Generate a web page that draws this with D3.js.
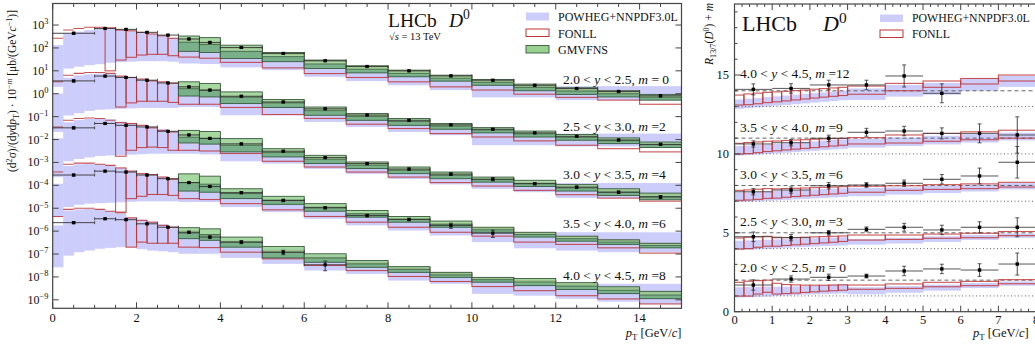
<!DOCTYPE html>
<html><head><meta charset="utf-8">
<script src="https://cdn.jsdelivr.net/npm/d3@7"></script>
<style>
body{margin:0;background:#fff;}
svg{display:block;font-family:"Liberation Serif","DejaVu Serif",serif;}
</style></head><body>
<svg id="c" width="1035" height="350"></svg>
<script>
// ================= DATA (left panel: values given as log10 exponents) =================
const rapRanges = [["2.0","2.5"],["2.5","3.0"],["3.0","3.5"],["3.5","4.0"],["4.0","4.5"]];
const mLeft  = ["= 0","=2","=4","=6","=8"];
const mRight = ["= 0","=3","=6","=9","=12"];
const mRightVal = [0,3,6,9,12];
const xTicksL = [0,2,4,6,8,10,12,14];
const yTicksL = [3,2,1,0,-1,-2,-3,-4,-5,-6,-7,-8,-9];
const xTicksR = [0,1,2,3,4,5,6,7,8];
const yTicksR = [0,5,10,15];

const dataEdges = [0,1,1.5,2,2.5,3,3.5,4,5,6,7,8,9,10,11,12,13,14,15];
const dataExp = [
 [2.64,2.85,2.81,2.68,2.56,2.39,2.24,2.02,1.76,1.44,1.19,1.00,0.78,0.59,0.37,0.23,0.10,-0.09],
 [0.56,0.77,0.71,0.59,0.47,0.30,0.16,-0.11,-0.36,-0.66,-0.93,-1.16,-1.36,-1.55,-1.71,-1.86,-2.02,-2.21],
 [-1.49,-1.30,-1.38,-1.45,-1.64,-1.80,-1.95,-2.19,-2.51,-2.79,-3.05,-3.29,-3.51,-3.73,-3.93,-4.08,-4.30,-4.51],
 [-3.55,-3.38,-3.42,-3.55,-3.71,-3.88,-4.05,-4.32,-4.66,-4.98,-5.32,-5.49,-5.75,-6.09,null,null,null,null],
 [-5.63,-5.46,-5.50,-5.68,-5.83,-6.05,-6.26,-6.48,-6.92,-7.47,null,null,null,null,null,null,null,null]
];
const dataErr = [
 [0.10,0.08,0.08,0.08,0.08,0.08,0.08,0.08,0.08,0.08,0.08,0.08,0.08,0.08,0.08,0.08,0.08,0.10],
 [0.10,0.08,0.08,0.08,0.08,0.08,0.08,0.08,0.08,0.08,0.08,0.08,0.08,0.08,0.08,0.08,0.08,0.10],
 [0.10,0.08,0.08,0.08,0.08,0.08,0.08,0.08,0.08,0.08,0.10,0.10,0.12,0.15,0.10,0.10,0.12,0.15],
 [0.10,0.08,0.08,0.08,0.08,0.08,0.08,0.10,0.12,0.10,0.12,0.12,0.25,0.35,null,null,null,null],
 [0.10,0.08,0.08,0.08,0.08,0.10,0.10,0.15,0.22,0.45,null,null,null,null,null,null,null,null]
];

const thEdges = [0,0.25,0.5,0.75,1,1.25,1.5,1.75,2,2.25,2.5,2.75,3,3.5,4,5,6,7,8,9,10,11,12,13,14,15];
const powhegHiExp = [
 [2.12,2.64,2.71,2.78,2.85,2.85,2.78,2.75,2.68,2.61,2.53,2.44,2.35,2.20,1.95,1.61,1.25,1.00,0.81,0.62,0.45,0.33,0.33,0.33,0.33],
 [0.01,0.70,0.80,0.85,0.88,0.88,0.78,0.72,0.65,0.58,0.50,0.42,0.30,0.15,-0.14,-0.50,-0.79,-1.01,-1.23,-1.42,-1.60,-1.74,-1.74,-1.74,-1.74],
 [-1.95,-1.25,-1.15,-1.10,-1.08,-1.12,-1.22,-1.28,-1.36,-1.45,-1.55,-1.65,-1.78,-1.93,-2.18,-2.55,-2.85,-3.10,-3.32,-3.53,-3.73,-3.85,-3.90,-3.90,-3.90],
 [-3.93,-3.15,-3.08,-3.06,-3.08,-3.13,-3.24,-3.36,-3.47,-3.53,-3.62,-3.72,-3.85,-4.00,-4.25,-4.62,-4.95,-5.25,-5.50,-5.72,-5.95,-6.05,-6.05,-6.05,-6.05],
 [-5.75,-5.10,-5.05,-5.03,-5.05,-5.12,-5.22,-5.40,-5.50,-5.58,-5.70,-5.80,-5.95,-6.15,-6.40,-6.75,-7.05,-7.30,-7.55,-7.78,-8.00,-8.30,-8.30,-8.30,-8.30]
];
const powhegLoExp = [
 [0.30,1.10,1.18,1.25,1.29,1.35,1.38,1.40,1.42,1.42,1.42,1.40,1.32,1.30,1.15,1.03,0.74,0.55,0.37,0.16,-0.16,-0.16,-0.28,-0.28,-0.28],
 [-1.67,-0.95,-0.85,-0.75,-0.70,-0.68,-0.66,-0.64,-0.62,-0.62,-0.62,-0.62,-0.58,-0.58,-0.94,-0.94,-1.23,-1.45,-1.67,-1.81,-2.25,-2.25,-2.30,-2.30,-2.30],
 [-3.64,-2.95,-2.85,-2.78,-2.72,-2.70,-2.68,-2.66,-2.64,-2.62,-2.62,-2.62,-2.62,-2.65,-2.95,-3.05,-3.28,-3.50,-3.72,-3.96,-4.15,-4.30,-4.55,-4.55,-4.55],
 [-5.39,-4.95,-4.85,-4.80,-4.78,-4.76,-4.74,-4.72,-4.70,-4.70,-4.70,-4.70,-4.73,-4.73,-4.95,-5.17,-5.46,-5.75,-5.97,-6.19,-6.48,-6.75,-6.85,-6.92,-6.92],
 [-7.58,-7.07,-6.92,-6.85,-6.77,-6.73,-6.70,-6.70,-6.79,-6.85,-6.88,-6.92,-6.99,-6.99,-7.17,-7.43,-7.72,-7.87,-8.16,-8.30,-8.74,-8.82,-8.96,-9.08,-9.18]
];
const fonllHiExp = [
 [2.42,2.78,2.85,2.90,2.90,2.88,2.78,2.75,2.68,2.61,2.53,2.42,2.35,2.20,1.98,1.72,1.42,1.17,0.97,0.75,0.55,0.33,0.18,0.05,-0.12],
 [0.52,0.81,0.89,0.93,0.93,0.89,0.77,0.71,0.64,0.56,0.52,0.45,0.30,0.15,-0.12,-0.38,-0.68,-0.95,-1.18,-1.38,-1.57,-1.73,-1.88,-2.04,-2.23],
 [-1.45,-1.16,-1.08,-1.06,-1.08,-1.16,-1.26,-1.30,-1.38,-1.49,-1.60,-1.67,-1.80,-1.95,-2.20,-2.52,-2.80,-3.07,-3.30,-3.52,-3.74,-3.90,-4.06,-4.24,-4.42],
 [-3.42,-3.08,-3.03,-3.03,-3.08,-3.13,-3.24,-3.38,-3.49,-3.53,-3.64,-3.74,-3.88,-4.05,-4.33,-4.67,-4.98,-5.25,-5.48,-5.68,-5.88,-6.08,-6.25,-6.40,-6.55],
 [-5.36,-5.05,-5.00,-5.00,-5.05,-5.13,-5.20,-5.42,-5.53,-5.61,-5.75,-5.83,-6.00,-6.20,-6.45,-6.85,-7.15,-7.38,-7.62,-7.85,-8.05,-8.15,-8.32,-8.50,-8.70]
];
const fonllLoExp = [
 [null,null,null,null,null,1.00,1.47,1.59,1.69,1.72,1.72,1.66,1.60,1.55,1.37,1.13,0.88,0.71,0.52,0.30,0.16,-0.02,-0.16,-0.28,-0.46],
 [null,null,null,null,null,null,-0.58,-0.40,-0.33,-0.33,-0.33,-0.38,-0.46,-0.46,-0.60,-0.91,-1.08,-1.33,-1.52,-1.74,-1.89,-2.06,-2.25,-2.40,-2.54],
 [null,null,null,null,null,null,-2.73,-2.47,-2.35,-2.33,-2.35,-2.47,-2.47,-2.50,-2.61,-2.95,-3.20,-3.42,-3.64,-3.88,-4.03,-4.22,-4.41,-4.56,-4.69],
 [null,null,null,null,null,null,-5.17,-4.58,-4.48,-4.40,-4.40,-4.44,-4.58,-4.62,-4.80,-5.07,-5.36,-5.61,-5.83,-6.05,-6.22,-6.48,-6.58,-6.73,-6.96],
 [null,null,null,null,null,null,null,-6.70,-6.48,-6.53,-6.53,-6.53,-6.70,-6.72,-6.92,-7.21,-7.50,-7.72,-7.98,-8.20,-8.42,-8.60,-8.82,-8.96,-9.18]
];
const gmEdges = [3,3.5,4,5,6,7,8,9,10,11,12,13,14,15];
const gmHiExp = [
 [2.52,2.45,2.12,1.80,1.47,1.22,1.03,0.81,0.62,0.42,0.26,0.13,-0.03],
 [0.52,0.45,0.08,-0.25,-0.58,-0.86,-1.08,-1.30,-1.48,-1.63,-1.78,-1.93,-2.11],
 [-1.60,-1.65,-1.96,-2.40,-2.69,-2.98,-3.20,-3.42,-3.64,-3.78,-3.97,-4.15,-4.34],
 [-3.50,-3.60,-4.15,-4.48,-4.80,-5.10,-5.36,-5.56,-5.83,-6.05,-6.22,-6.38,-6.53],
 [-5.85,-5.90,-6.26,-6.67,-6.99,-7.28,-7.55,-7.80,-8.02,-8.07,-8.25,-8.43,-8.63]
];
const gmMidExp = [
 [2.25,2.15,1.85,1.62,1.30,1.07,0.89,0.68,0.50,0.28,0.12,0.00,-0.15],
 [0.22,0.15,-0.15,-0.40,-0.74,-0.99,-1.21,-1.41,-1.58,-1.75,-1.90,-2.05,-2.22],
 [-1.90,-1.95,-2.25,-2.57,-2.86,-3.12,-3.34,-3.56,-3.75,-3.92,-4.11,-4.30,-4.49],
 [-3.88,-3.95,-4.36,-4.65,-4.96,-5.24,-5.48,-5.70,-5.94,-6.15,-6.33,-6.48,-6.63],
 [-6.08,-6.15,-6.48,-6.92,-7.17,-7.43,-7.67,-7.91,-8.12,-8.22,-8.40,-8.58,-8.79]
];
const gmLoExp = [
 [1.85,1.80,1.54,1.40,1.10,0.91,0.74,0.55,0.37,0.13,-0.03,-0.14,-0.28],
 [-0.10,-0.14,-0.43,-0.60,-0.94,-1.16,-1.38,-1.55,-1.71,-1.89,-2.03,-2.18,-2.35],
 [-2.15,-2.20,-2.54,-2.76,-3.05,-3.27,-3.49,-3.71,-3.86,-4.05,-4.25,-4.44,-4.63],
 [-4.25,-4.30,-4.58,-4.83,-5.13,-5.39,-5.61,-5.83,-6.05,-6.26,-6.44,-6.58,-6.73],
 [-6.33,-6.40,-6.70,-7.17,-7.36,-7.58,-7.80,-8.02,-8.23,-8.38,-8.55,-8.73,-8.95]
];

// ================= DATA (right panel: R_13/7, without the offset m) =================
const dataEdgesR = [0,1,2,3,4,5,6,7,8];
const ratioData = [
 [1.69,2.07,2.18,2.26,2.58,2.71,2.64,3.02],
 [1.75,1.69,2.00,2.22,2.35,2.18,2.35,2.35],
 [1.60,1.71,1.98,2.03,2.14,2.39,2.60,3.47],
 [1.63,1.71,1.99,2.37,2.45,2.30,2.30,2.20],
 [2.09,2.15,2.37,2.37,2.94,1.84,null,null]
];
const ratioErr = [
 [0.33,0.20,0.20,0.12,0.30,0.30,0.40,0.70],
 [0.30,0.20,0.15,0.15,0.25,0.30,0.35,0.60],
 [0.20,0.20,0.20,0.15,0.20,0.30,0.50,1.00],
 [0.20,0.20,0.20,0.25,0.30,0.35,0.60,1.15],
 [0.35,0.30,0.30,0.30,0.70,0.60,null,null]
];
const thEdgesR = [0,0.25,0.5,0.75,1,1.25,1.5,1.75,2,2.25,2.5,2.75,3,4,5,6,7,8];
const powhegRLo = [
 [0.90,0.92,0.94,0.96,1.00,1.02,1.05,1.08,1.10,1.12,1.14,1.16,1.10,1.20,1.33,1.50,1.65],
 [0.90,0.92,0.95,0.98,1.02,1.05,1.08,1.10,1.13,1.16,1.18,1.20,1.25,1.32,1.42,1.55,1.68],
 [0.95,0.97,1.00,1.03,1.06,1.09,1.12,1.15,1.18,1.21,1.24,1.27,1.32,1.42,1.52,1.62,1.75],
 [0.90,0.93,0.96,1.00,1.04,1.08,1.12,1.16,1.20,1.24,1.28,1.32,1.40,1.50,1.60,1.72,1.85],
 [0.85,0.90,0.95,1.00,1.05,1.10,1.15,1.20,1.25,1.30,1.35,1.40,1.42,1.63,1.75,2.00,2.25]
];
const powhegRHi = [
 [1.55,1.56,1.57,1.58,1.58,1.58,1.60,1.62,1.64,1.68,1.72,1.76,1.55,1.62,1.72,1.82,1.92],
 [1.50,1.52,1.54,1.56,1.58,1.60,1.62,1.64,1.66,1.68,1.70,1.72,1.60,1.68,1.78,1.86,1.95],
 [1.55,1.57,1.59,1.62,1.65,1.68,1.71,1.74,1.76,1.78,1.80,1.82,1.85,1.88,1.98,2.05,2.15],
 [1.50,1.53,1.56,1.60,1.64,1.68,1.72,1.76,1.80,1.84,1.88,1.92,1.95,2.05,2.15,2.25,2.35],
 [1.45,1.50,1.55,1.60,1.65,1.70,1.75,1.80,1.85,1.90,1.95,2.00,2.15,2.37,2.50,2.75,2.95]
];
const fonllRHi = [
 [1.86,1.93,1.97,2.00,1.80,1.72,1.70,1.68,1.68,1.68,1.69,1.70,1.69,1.76,1.86,1.92,2.03],
 [1.67,1.72,1.75,1.78,1.72,1.70,1.70,1.72,1.74,1.76,1.78,1.80,1.86,1.86,1.92,1.97,2.08],
 [1.69,1.72,1.76,1.80,1.78,1.80,1.82,1.84,1.86,1.88,1.90,1.92,1.95,1.98,2.05,2.10,2.20],
 [1.67,1.72,1.76,1.80,1.82,1.85,1.88,1.90,1.93,1.95,1.97,1.99,2.03,2.20,2.30,2.40,2.50],
 [1.73,1.80,1.85,1.90,1.93,1.97,2.01,2.05,2.10,2.14,2.18,2.22,2.30,2.47,2.62,2.78,3.00]
];
const fonllRLo = [
 [0.99,0.99,1.12,1.23,1.12,1.15,1.18,1.22,1.26,1.30,1.33,1.36,1.42,1.48,1.58,1.65,1.77],
 [0.97,1.00,1.08,1.15,1.15,1.20,1.24,1.28,1.32,1.36,1.40,1.45,1.54,1.58,1.65,1.69,1.82],
 [1.06,1.08,1.12,1.18,1.20,1.25,1.30,1.34,1.38,1.42,1.46,1.50,1.57,1.69,1.75,1.80,1.90],
 [0.99,1.02,1.08,1.15,1.20,1.25,1.30,1.35,1.40,1.45,1.50,1.55,1.63,1.69,1.80,1.90,2.00],
 [1.10,1.12,1.18,1.25,1.30,1.36,1.42,1.48,1.54,1.60,1.65,1.70,1.78,2.00,2.22,2.43,2.62]
];

// ================= DRAWING =================
const svg = d3.select("#c");
const E = v => Math.pow(10, v);
const COL_PW = "#cdcdfb", COL_FO = "#c03535", COL_GM = "#98d192", COL_GMD = "rgba(40,105,85,0.32)", COL_GMS = "#3a5a3e";

function rich(t, parts, fs){
  let shift = 0;
  parts.forEach(([txt, st]) => {
    const ts = t.append("tspan").text(txt);
    let target = 0;
    st = st || "";
    if (st.includes("sup")) { target = -fs*0.38; ts.attr("font-size", fs*0.7); }
    if (st.includes("sub")) { target = fs*0.22; ts.attr("font-size", fs*0.7); }
    if (st.includes("i")) ts.attr("font-style", "italic");
    ts.attr("dy", target - shift); shift = target;
  });
}

// ---------- LEFT PANEL ----------
const L = {x0:52.7, x1:681.5, y0:3.5, y1:308.3};
const xL = d3.scaleLinear().domain([0,15]).range([L.x0, L.x1]);
const yL = d3.scaleLog().domain([E(-9.37), E(3.94)]).range([L.y1, L.y0]);
svg.append("clipPath").attr("id","clipL").append("rect")
  .attr("x",L.x0).attr("y",L.y0).attr("width",L.x1-L.x0).attr("height",L.y1-L.y0);
const gL = svg.append("g").attr("clip-path","url(#clipL)");

powhegHiExp.forEach((hiArr, r) => {
  hiArr.forEach((h, i) => {
    const l = powhegLoExp[r][i];
    gL.append("rect").attr("x", xL(thEdges[i])).attr("width", xL(thEdges[i+1]) - xL(thEdges[i]) + 0.3)
      .attr("y", yL(E(h))).attr("height", yL(E(l)) - yL(E(h))).attr("fill", COL_PW);
  });
});
fonllHiExp.forEach((hiArr, r) => {
  hiArr.forEach((h, i) => {
    const l = fonllLoExp[r][i];
    const xa = xL(thEdges[i]), xb = xL(thEdges[i+1]);
    if (l === null) {
      gL.append("line").attr("x1",xa).attr("x2",xb).attr("y1",yL(E(h))).attr("y2",yL(E(h)))
        .attr("stroke",COL_FO).attr("stroke-width",1.1).attr("stroke-opacity",0.85);
    } else {
      gL.append("rect").attr("x",xa).attr("width",xb-xa).attr("y",yL(E(h))).attr("height",yL(E(l))-yL(E(h)))
        .attr("fill","none").attr("stroke",COL_FO).attr("stroke-width",1.1).attr("stroke-opacity",0.85);
    }
  });
});
gmHiExp.forEach((hiArr, r) => {
  hiArr.forEach((h, i) => {
    const l = gmLoExp[r][i], m = gmMidExp[r][i];
    const xa = xL(gmEdges[i]), xb = xL(gmEdges[i+1]);
    gL.append("rect").attr("x",xa).attr("width",xb-xa).attr("y",yL(E(h))).attr("height",yL(E(l))-yL(E(h)))
      .attr("fill",COL_GM).attr("fill-opacity",0.85).attr("stroke",COL_GMS).attr("stroke-width",0.9);
    gL.append("rect").attr("x",xa).attr("width",xb-xa).attr("y",yL(E(m))).attr("height",yL(E(l))-yL(E(m)))
      .attr("fill",COL_GMD);
    gL.append("line").attr("x1",xa).attr("x2",xb).attr("y1",yL(E(m))).attr("y2",yL(E(m)))
      .attr("stroke",COL_GMS).attr("stroke-width",0.8);
  });
});
dataExp.forEach((arr, r) => {
  arr.forEach((v, i) => {
    if (v === null) return;
    const xa = xL(dataEdges[i]), xb = xL(dataEdges[i+1]), xc = (xa+xb)/2;
    const yc = yL(E(v)), e = dataErr[r][i];
    const yu = yL(E(v)*(1+e)), yd = yL(E(v)*(1-e));
    gL.append("line").attr("x1",xa).attr("x2",xb).attr("y1",yc).attr("y2",yc).attr("stroke","#333").attr("stroke-width",0.9);
    gL.append("line").attr("x1",xc).attr("x2",xc).attr("y1",yu).attr("y2",yd).attr("stroke","#222").attr("stroke-width",0.9);
    [yu,yd].forEach(yy => gL.append("line").attr("x1",xc-2).attr("x2",xc+2).attr("y1",yy).attr("y2",yy).attr("stroke","#222").attr("stroke-width",0.8));
    [xa,xb].forEach(xx => gL.append("line").attr("x1",xx).attr("x2",xx).attr("y1",yc-1.5).attr("y2",yc+1.5).attr("stroke","#333").attr("stroke-width",0.8));
    gL.append("rect").attr("x",xc-1.6).attr("y",yc-1.6).attr("width",3.2).attr("height",3.2).attr("fill","#000");
  });
});

const gA = svg.append("g").attr("stroke","#444").attr("stroke-width",1);
gA.append("rect").attr("x",L.x0).attr("y",L.y0).attr("width",L.x1-L.x0).attr("height",L.y1-L.y0).attr("fill","none").attr("stroke-width",1.2);
d3.range(0, 15.001, 0.5).forEach(v => {
  const len = (Math.abs(v % 2) < 1e-6) ? 6 : 3.5, x = xL(v);
  gA.append("line").attr("x1",x).attr("x2",x).attr("y1",L.y1).attr("y2",L.y1-len);
  gA.append("line").attr("x1",x).attr("x2",x).attr("y1",L.y0).attr("y2",L.y0+len);
});
yTicksL.forEach(n => {
  const y = yL(E(n));
  gA.append("line").attr("x1",L.x0).attr("x2",L.x0+6).attr("y1",y).attr("y2",y);
  gA.append("line").attr("x1",L.x1).attr("x2",L.x1-6).attr("y1",y).attr("y2",y);
});
const gT = svg.append("g").attr("fill","#111");
xTicksL.forEach(v => gT.append("text").attr("x",xL(v)).attr("y",322).attr("text-anchor","middle").attr("font-size",12.5).text(v));
yTicksL.forEach(n => {
  const t = gT.append("text").attr("x",48.5).attr("y",yL(E(n))+4).attr("text-anchor","end").attr("font-size",12);
  rich(t, [["10",""],[String(n).replace("-","\u2212"),"sup"]], 12);
});
const tx = gT.append("text").attr("x",L.x1).attr("y",337).attr("text-anchor","end").attr("font-size",12.5);
rich(tx, [["p","i"],["T","sub"],[" [GeV/",""],["c","i"],["]",""]], 12.5);
const ty = gT.append("text").attr("transform","translate(16,91) rotate(-90)").attr("text-anchor","middle").attr("font-size",11.5);
rich(ty, [["(d",""],["2","sup"],["\u03c3)/(d",""],["y","i"],["d",""],["p","i"],["T","sub"],[") \u00b7 10",""],["\u2212","sup"],["m","sup i"],[" [\u03bcb/(GeV",""],["c","i"],["\u22121","sup"],[")]",""]], 11.5);

gT.append("text").attr("x",388).attr("y",26.5).attr("font-size",19.5).text("LHCb");
const dl = gT.append("text").attr("x",449).attr("y",26.5).attr("font-size",19.5);
rich(dl, [["D","i"],["0","sup"]], 19.5);
const sq = gT.append("text").attr("x",389).attr("y",40).attr("font-size",10.5);
rich(sq, [["\u221a",""],["s","i"],[" = 13 TeV",""]], 10.5);

const lg = svg.append("g");
lg.append("rect").attr("x",526).attr("y",12.5).attr("width",23).attr("height",8).attr("fill",COL_PW);
lg.append("rect").attr("x",526).attr("y",29).attr("width",23).attr("height",7.5).attr("fill","none").attr("stroke",COL_FO).attr("stroke-width",1);
lg.append("rect").attr("x",526).attr("y",45.5).attr("width",23).attr("height",7.5).attr("fill",COL_GM).attr("stroke",COL_GMS).attr("stroke-width",0.9);
[["POWHEG+NNPDF3.0L",21],["FONLL",37.5],["GMVFNS",54]].forEach(([s,y]) =>
  lg.append("text").attr("x",558).attr("y",y).attr("font-size",12).attr("fill","#111").text(s));

const labYL = [84,131,179,228,280];
rapRanges.forEach((rr, r) => {
  const t = gT.append("text").attr("x",563).attr("y",labYL[r]).attr("font-size",13.5);
  rich(t, [[rr[0]+" < ",""],["y","i"],[" < "+rr[1]+", ",""],["m","i"],[" "+mLeft[r],""]], 13.5);
});

// ---------- RIGHT PANEL ----------
const R = {x0:734.5, x1:1036.1, y0:4, y1:311.7};
const xR = d3.scaleLinear().domain([0,8]).range([R.x0, R.x1]);
const yR = d3.scaleLinear().domain([0,19.5]).range([R.y1, R.y0]);
svg.append("clipPath").attr("id","clipR").append("rect")
  .attr("x",R.x0).attr("y",R.y0).attr("width",R.x1-R.x0).attr("height",R.y1-R.y0);
const gR = svg.append("g").attr("clip-path","url(#clipR)");

powhegRHi.forEach((hiArr, r) => {
  const m = mRightVal[r];
  hiArr.forEach((h, i) => {
    const l = powhegRLo[r][i];
    gR.append("rect").attr("x",xR(thEdgesR[i])).attr("width",xR(thEdgesR[i+1])-xR(thEdgesR[i])+0.3)
      .attr("y",yR(h+m)).attr("height",yR(l+m)-yR(h+m)).attr("fill",COL_PW);
  });
});
mRightVal.forEach(m => {
  gR.append("line").attr("x1",R.x0).attr("x2",R.x1).attr("y1",yR(m+2)).attr("y2",yR(m+2))
    .attr("stroke","#555").attr("stroke-width",0.9).attr("stroke-dasharray","4,3");
  gR.append("line").attr("x1",R.x0).attr("x2",R.x1).attr("y1",yR(m+1)).attr("y2",yR(m+1))
    .attr("stroke","#555").attr("stroke-width",0.9).attr("stroke-dasharray","1,2.5");
});
fonllRHi.forEach((hiArr, r) => {
  const m = mRightVal[r];
  hiArr.forEach((h, i) => {
    const l = fonllRLo[r][i];
    const xa = xR(thEdgesR[i]), xb = xR(thEdgesR[i+1]);
    gR.append("rect").attr("x",xa).attr("width",xb-xa).attr("y",yR(h+m)).attr("height",yR(l+m)-yR(h+m))
      .attr("fill","none").attr("stroke",COL_FO).attr("stroke-width",1.1).attr("stroke-opacity",0.85);
  });
});
ratioData.forEach((arr, r) => {
  const m = mRightVal[r];
  arr.forEach((v, i) => {
    if (v === null) return;
    const xa = xR(dataEdgesR[i]), xb = xR(dataEdgesR[i+1]), xc = (xa+xb)/2;
    const e = ratioErr[r][i];
    const yc = yR(v+m), yu = yR(v+m+e), yd = yR(v+m-e);
    gR.append("line").attr("x1",xa).attr("x2",xb).attr("y1",yc).attr("y2",yc).attr("stroke","#444").attr("stroke-width",0.9);
    gR.append("line").attr("x1",xc).attr("x2",xc).attr("y1",yu).attr("y2",yd).attr("stroke","#333").attr("stroke-width",0.9);
    [yu,yd].forEach(yy => gR.append("line").attr("x1",xc-2).attr("x2",xc+2).attr("y1",yy).attr("y2",yy).attr("stroke","#333").attr("stroke-width",0.8));
    gR.append("rect").attr("x",xc-1.7).attr("y",yc-1.7).attr("width",3.4).attr("height",3.4).attr("fill","#000");
  });
});
const gB = svg.append("g").attr("stroke","#444").attr("stroke-width",1);
gB.append("rect").attr("x",R.x0).attr("y",R.y0).attr("width",R.x1-R.x0).attr("height",R.y1-R.y0).attr("fill","none").attr("stroke-width",1.2);
d3.range(0, 8.001, 0.2).forEach(v => {
  const major = Math.abs(v - Math.round(v)) < 1e-6, len = major ? 6 : 3, x = xR(v);
  gB.append("line").attr("x1",x).attr("x2",x).attr("y1",R.y1).attr("y2",R.y1-len);
  gB.append("line").attr("x1",x).attr("x2",x).attr("y1",R.y0).attr("y2",R.y0+len);
});
d3.range(0, 19.5, 1).forEach(v => {
  const len = (v % 5 === 0) ? 6 : 3, y = yR(v);
  gB.append("line").attr("x1",R.x0).attr("x2",R.x0+len).attr("y1",y).attr("y2",y);
});
xTicksR.forEach(v => gT.append("text").attr("x",xR(v)).attr("y",324).attr("text-anchor","middle").attr("font-size",12.5).text(v));
yTicksR.forEach(v => gT.append("text").attr("x",729).attr("y",yR(v)+4).attr("text-anchor","end").attr("font-size",12.5).text(v));
const txr = gT.append("text").attr("x",973).attr("y",337).attr("font-size",12.5);
rich(txr, [["p","i"],["T","sub"],[" [GeV/",""],["c","i"],["]",""]], 12.5);
const tyr = gT.append("text").attr("transform","translate(713,3) rotate(-90)").attr("text-anchor","end").attr("font-size",11.5);
rich(tyr, [["R","i"],["13/7","sub"],["(",""],["D","i"],["0","sup"],[") + ",""],["m","i"]], 11.5);

gT.append("text").attr("x",742).attr("y",31).attr("font-size",22).text("LHCb");
const dr = gT.append("text").attr("x",823).attr("y",31).attr("font-size",22);
rich(dr, [["D","i"],["0","sup"]], 22);
lg.append("rect").attr("x",880).attr("y",14.5).attr("width",23).attr("height",7.5).attr("fill",COL_PW);
lg.append("rect").attr("x",880).attr("y",30).attr("width",23).attr("height",7.5).attr("fill","none").attr("stroke",COL_FO).attr("stroke-width",1);
[["POWHEG+NNPDF3.0L",22],["FONLL",38]].forEach(([s,y]) =>
  lg.append("text").attr("x",912).attr("y",y).attr("font-size",11.8).attr("fill","#111").text(s));
const labYR = [272,226,179,131.5,77.5];
rapRanges.forEach((rr, r) => {
  const t = gT.append("text").attr("x",740).attr("y",labYR[r]).attr("font-size",13.5);
  rich(t, [[rr[0]+" < ",""],["y","i"],[" < "+rr[1]+", ",""],["m","i"],[" "+mRight[r],""]], 13.5);
});
</script>
</body></html>
